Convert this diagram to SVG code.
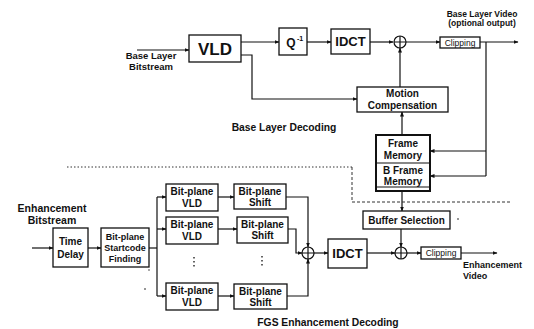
<svg xmlns="http://www.w3.org/2000/svg" width="534" height="329" viewBox="0 0 534 329">
<style>
.box{fill:#fff;stroke:#111;stroke-width:1.3}
.ln{fill:none;stroke:#111;stroke-width:1.2}
.ar{fill:none;stroke:#111;stroke-width:1.2;marker-end:url(#ah)}
.t{font-family:"Liberation Sans",Arial,sans-serif;font-weight:bold;fill:#111;text-anchor:middle}
.r{font-family:"Liberation Sans",Arial,sans-serif;fill:#111;text-anchor:middle}
</style>
<defs>
<marker id="ah" viewBox="0 0 10 10" refX="9" refY="5" markerWidth="5" markerHeight="5" orient="auto" markerUnits="userSpaceOnUse">
<path d="M0,1 L10,5 L0,9 z" fill="#111"/>
</marker>
</defs>
<rect width="534" height="329" fill="#fff"/>

<g id="connectors">
<path class="ar" d="M137,50 H189"/>
<path class="ar" d="M241,42 H279"/>
<path class="ar" d="M307,42 H331"/>
<path class="ar" d="M370,42 H393"/>
<path class="ar" d="M406,42 H440"/>
<path class="ar" d="M480,42 H518"/>
<path class="ar" d="M241,55 H252 V99 H357"/>
<path class="ar" d="M400,87 V48"/>
<path class="ar" d="M402,135 V112"/>
<path class="ln" d="M486,42 V176"/>
<path class="ar" d="M486,151 H430"/>
<path class="ar" d="M486,176 H430"/>
<path class="ar" d="M402,191 V211"/>
<path class="ar" d="M401,229 V247"/>
<path d="M67,167 H352" fill="none" stroke="#333" stroke-width="1" stroke-dasharray="1.5,2"/>
<path d="M352,167 V202 H512" fill="none" stroke="#333" stroke-width="1" stroke-dasharray="3,2"/>
<path class="ar" d="M32,248 H53"/>
<path class="ar" d="M88,248 H101"/>
<path class="ln" d="M149,248 H157"/>
<path class="ln" d="M157,197 V296"/>
<path class="ar" d="M157,197 H166"/>
<path class="ar" d="M157,229 H166"/>
<path class="ar" d="M157,296 H166"/>
<path class="ar" d="M218,197 H234"/>
<path class="ar" d="M218,229 H237"/>
<path class="ar" d="M218,296 H234"/>
<path class="ar" d="M286,197 H308 V247"/>
<path class="ar" d="M288,229 H296 V253 H302"/>
<path class="ar" d="M287,296 H308 V259"/>
<path class="ar" d="M314,253 H328"/>
<path class="ar" d="M367,253 H395"/>
<path class="ar" d="M407,253 H421"/>
<path class="ar" d="M461,253 H497"/>
</g>

<g id="vld"><rect class="box" x="189" y="35" width="52" height="27"/><text class="t" x="215" y="55" font-size="17" font-weight="bold">VLD</text></g>
<g id="iq"><rect class="box" x="279" y="28" width="28" height="27"/><text class="t" x="291" y="47" font-size="12">Q</text><text class="t" x="300" y="41" font-size="7">-1</text></g>
<g id="idct1"><rect class="box" x="331" y="29" width="39" height="25"/><text class="t" x="350.5" y="46" font-size="13">IDCT</text></g>
<g id="sum1"><circle cx="400" cy="42" r="6" fill="#fff" stroke="#111" stroke-width="1.2"/><path class="ln" d="M394,42 H406 M400,36 V48"/></g>
<g id="clip1"><rect class="box" x="440" y="37" width="40" height="11"/><text class="r" x="460" y="45.5" font-size="8.5">Clipping</text></g>
<g id="mc"><rect class="box" x="357" y="87" width="91" height="25"/><text class="t" x="402.5" y="97" font-size="10">Motion</text><text class="t" x="402.5" y="109" font-size="10">Compensation</text></g>
<g id="fm"><rect x="376" y="135" width="54" height="56" fill="#fff" stroke="#111" stroke-width="2"/><path class="ln" d="M376,163 H430 M376,187 H430"/><text class="t" x="403" y="147" font-size="10">Frame</text><text class="t" x="403" y="159" font-size="10">Memory</text><text class="t" x="403" y="174" font-size="10">B Frame</text><text class="t" x="403" y="185" font-size="10">Memory</text></g>
<g id="bufsel"><rect class="box" x="363" y="211" width="87" height="18"/><text class="t" x="406.5" y="224" font-size="10">Buffer Selection</text></g>
<circle cx="458" cy="219" r="0.8" fill="#111"/>

<g id="td"><rect class="box" x="53" y="228" width="35" height="39"/><text class="t" x="70.5" y="245" font-size="10">Time</text><text class="t" x="70.5" y="258" font-size="10">Delay</text></g>
<g id="sc"><rect class="box" x="101" y="228" width="48" height="39"/><text class="t" x="125" y="240" font-size="9">Bit-plane</text><text class="t" x="125" y="251" font-size="9">Startcode</text><text class="t" x="125" y="262" font-size="9">Finding</text></g>
<circle cx="149" cy="270" r="0.7" fill="#111"/>
<circle cx="145" cy="289" r="0.8" fill="#111"/>

<g id="bv1"><rect class="box" x="166" y="184" width="52" height="27"/><text class="t" x="192" y="195" font-size="10">Bit-plane</text><text class="t" x="192" y="207" font-size="10">VLD</text></g>
<g id="bv2"><rect class="box" x="166" y="217" width="52" height="27"/><text class="t" x="192" y="228" font-size="10">Bit-plane</text><text class="t" x="192" y="240" font-size="10">VLD</text></g>
<g id="bv3"><rect class="box" x="166" y="283" width="52" height="27"/><text class="t" x="192" y="294" font-size="10">Bit-plane</text><text class="t" x="192" y="306" font-size="10">VLD</text></g>
<g id="bs1"><rect class="box" x="234" y="184" width="52" height="25"/><text class="t" x="260" y="195" font-size="10">Bit-plane</text><text class="t" x="260" y="206" font-size="10">Shift</text></g>
<g id="bs2"><rect class="box" x="237" y="217" width="51" height="26"/><text class="t" x="262.5" y="228" font-size="10">Bit-plane</text><text class="t" x="262.5" y="239" font-size="10">Shift</text></g>
<g id="bs3"><rect class="box" x="234" y="284" width="53" height="25"/><text class="t" x="260.5" y="295" font-size="10">Bit-plane</text><text class="t" x="260.5" y="306" font-size="10">Shift</text></g>
<g id="dots"><path d="M194,257 V269 M262,256 V268" stroke="#111" stroke-width="1.3" stroke-dasharray="1.5,2.5"/></g>
<g id="sum2"><circle cx="308" cy="253" r="6" fill="#fff" stroke="#111" stroke-width="1.2"/><path class="ln" d="M302,253 H314 M308,247 V259"/></g>
<g id="idct2"><rect class="box" x="328" y="239" width="39" height="29"/><text class="t" x="347.5" y="258" font-size="13">IDCT</text></g>
<g id="sum3"><circle cx="401" cy="253" r="6" fill="#fff" stroke="#111" stroke-width="1.2"/><path class="ln" d="M395,253 H407 M401,247 V259"/></g>
<g id="clip2"><rect class="box" x="421" y="247" width="40" height="12"/><text class="r" x="441" y="256" font-size="8.5">Clipping</text></g>

<g id="labels">
<text class="t" x="151" y="59" font-size="9.5">Base Layer</text>
<text class="t" x="151" y="70" font-size="9.5">Bitstream</text>
<text class="t" x="482" y="17" font-size="8.5">Base Layer Video</text>
<text class="t" x="482" y="26" font-size="8.5">(optional output)</text>
<text class="t" x="284" y="131" font-size="10.3">Base Layer Decoding</text>
<text class="t" x="52" y="212" font-size="10.5">Enhancement</text>
<text class="t" x="52" y="224" font-size="10.5">Bitstream</text>
<text class="t" x="463" y="268" font-size="9" style="text-anchor:start">Enhancement</text>
<text class="t" x="463" y="279" font-size="9" style="text-anchor:start">Video</text>
<text class="t" x="328" y="326" font-size="10.3">FGS Enhancement Decoding</text>
</g>
</svg>
